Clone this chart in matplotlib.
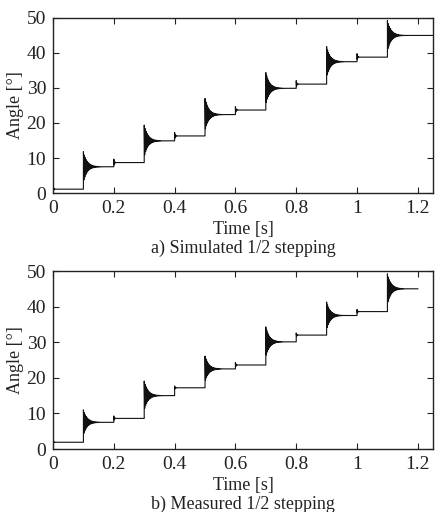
import numpy as np
import matplotlib
matplotlib.use("Agg")
import matplotlib.pyplot as plt

plt.rc("font", family="Liberation Serif", size=13)

# step instants [s]
step_times = [0.0, 0.1, 0.2, 0.3, 0.4, 0.5, 0.6, 0.7, 0.8, 0.9, 1.0, 1.1]

# a) simulated: settled level after each step and first overshoot peak
sim_levels = [1.1, 7.5, 8.7, 14.9, 16.3, 22.4, 23.7, 29.9, 31.1, 37.5, 38.8, 45.0]
sim_peaks = [2.0, 11.8, 9.7, 19.4, 17.3, 27.0, 24.7, 34.4, 32.1, 41.8, 39.8, 49.3]
sim_end = 1.25

# b) measured
meas_levels = [1.9, 7.5, 8.6, 15.0, 17.2, 22.5, 23.6, 30.1, 32.0, 37.5, 38.6, 45.0]
meas_peaks = [2.5, 11.0, 9.3, 19.1, 17.7, 26.1, 24.3, 34.3, 32.6, 41.3, 39.2, 49.2]
meas_end = 1.2


def stepping_trace(levels, peaks, t_end):
    # piecewise-constant levels with the ringing that follows each step
    t = np.linspace(0, t_end, 40000)
    y = np.zeros_like(t)
    for i, t0 in enumerate(step_times):
        t1 = step_times[i + 1] if i + 1 < len(step_times) else t_end
        m = (t >= t0) & (t < t1 + 1e-9)
        dt = t[m] - t0
        big = (i % 2 == 1)
        tau = 0.012 if big else 0.002
        freq = 330.0 if big else 500.0
        amp = peaks[i] - levels[i]
        y[m] = levels[i] + amp * np.exp(-dt / tau) * np.cos(2 * np.pi * freq * dt)
    return t, y


fig = plt.figure(figsize=(4.36, 5.12), dpi=100)
ax_top = fig.add_axes([0.1216, 0.623, 0.8716, 0.342])
ax_bot = fig.add_axes([0.1216, 0.1230, 0.8716, 0.3477])

panels = [
    (ax_top, sim_levels, sim_peaks, sim_end, "a) Simulated 1/2 stepping"),
    (ax_bot, meas_levels, meas_peaks, meas_end, "b) Measured 1/2 stepping"),
]

txt = "#222222"
for ax, levels, peaks, t_end, caption in panels:
    t, y = stepping_trace(levels, peaks, t_end)
    ax.plot(t, y, color="#111111", linewidth=0.8)
    ax.set_xlim(0, 1.25)
    ax.set_ylim(0, 50)
    ax.set_xticks([0, 0.2, 0.4, 0.6, 0.8, 1.0, 1.2])
    ax.set_xticklabels(["0", "0.2", "0.4", "0.6", "0.8", "1", "1.2"])
    ax.set_yticks([0, 10, 20, 30, 40, 50])
    ax.tick_params(direction="in", length=4, width=0.8, top=True, right=True,
                   colors=txt, labelsize=14, pad=5)
    for s in ax.spines.values():
        s.set_linewidth(1.0)
        s.set_color(txt)
    ax.set_ylabel("Angle [°]", color=txt, labelpad=2)
    ax.annotate("Time [s]", xy=(0.5, 0), xycoords="axes fraction",
                xytext=(0, -26), textcoords="offset points",
                ha="center", va="center", color=txt, fontsize=13)
    ax.annotate(caption, xy=(0.5, 0), xycoords="axes fraction",
                xytext=(0, -39.5), textcoords="offset points",
                ha="center", va="center", color=txt, fontsize=13)

plt.savefig("out.png", dpi=100)
